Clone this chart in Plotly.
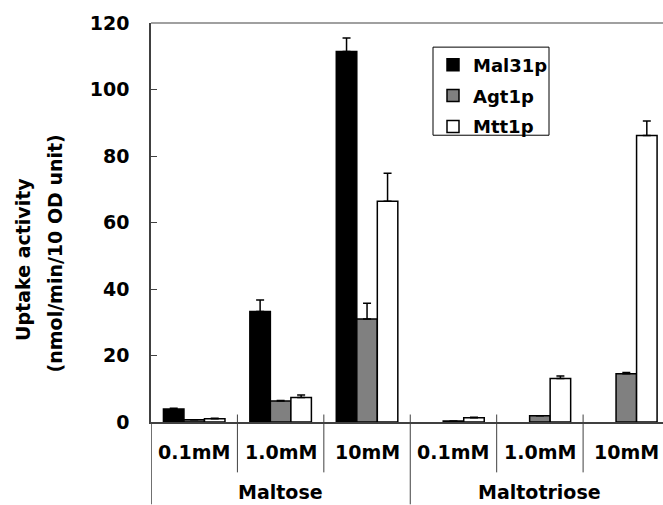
import plotly.graph_objects as go

sugars = ["Maltose", "Maltotriose"]
concs = ["0.1mM", "1.0mM", "10mM"]

series_names = ["Mal31p", "Agt1p", "Mtt1p"]
mal31p = [3.9, 33.2, 111.4, None, None, None]
mal31p_err = [0.2, 3.5, 4.1, None, None, None]
agt1p = [0.7, 6.3, 31.0, 0.3, 1.9, 14.5]
agt1p_err = [0.0, 0.2, 4.7, 0.0, 0.0, 0.4]
mtt1p = [1.0, 7.4, 66.4, 1.3, 13.1, 86.2]
mtt1p_err = [0.1, 0.7, 8.4, 0.1, 0.7, 4.3]

y_ticks = [0, 20, 40, 60, 80, 100, 120]

# layout constants
W, H = 663, 505
L, T = 151, 22.5
PW, PH = 512, 400
cat_px = 86.42

cat_labels = [c for s in sugars for c in concs]
xpos = list(range(len(cat_labels)))
n = len(cat_labels)
xmax = -0.5 + PW / cat_px

FONT = dict(family="DejaVu Sans", size=19, color="black", weight="bold")
AX = "#404040"

fills = ["#000000", "#808080", "#ffffff"]
vals = [mal31p, agt1p, mtt1p]
errs = [mal31p_err, agt1p_err, mtt1p_err]

fig = go.Figure()
for name, v, e, c in zip(series_names, vals, errs, fills):
    fig.add_trace(go.Bar(
        x=xpos, y=v, name=name, legendgroup=name,
        marker=dict(color=c, line=dict(color="black", width=1.5)),
        error_y=dict(type="data", array=e, arrayminus=[0 if q is not None else None for q in e],
                     symmetric=False, color="black", thickness=1.5, width=4),
    ))

def py(p):
    return (T + PH - p) / PH

def px(p):
    return (p - L) / PW

annotations = []
for i, lab in enumerate(cat_labels):
    annotations.append(dict(x=xpos[i], xref="x", y=py(453), yref="paper", text=lab,
                            showarrow=False, font=FONT, xanchor="center", yanchor="middle"))
for g, s in enumerate(sugars):
    center = (g * len(concs) + (g + 1) * len(concs) - 1) / 2
    annotations.append(dict(x=center, xref="x", y=py(493), yref="paper", text=s,
                            showarrow=False, font=FONT, xanchor="center", yanchor="middle"))
annotations.append(dict(x=px(23), xref="paper", y=py(260), yref="paper", text="Uptake activity",
                        textangle=-90, showarrow=False, font=FONT, xanchor="center", yanchor="middle"))
annotations.append(dict(x=px(55), xref="paper", y=py(253.5), yref="paper", text="(nmol/min/10 OD unit)",
                        textangle=-90, showarrow=False, font=FONT, xanchor="center", yanchor="middle"))

shapes = []
# top border
shapes.append(dict(type="line", xref="paper", yref="paper", x0=0, x1=1, y0=1, y1=1,
                   line=dict(color="#a0a0a0", width=2)))
# legend frame
shapes.append(dict(type="rect", xref="paper", yref="paper", x0=px(433), x1=px(549),
                   y0=py(135), y1=py(46.7), fillcolor="white", line=dict(color="black", width=1)))
# left axis extension
shapes.append(dict(type="line", xref="x", yref="paper", x0=-0.5, x1=-0.5, y0=0, y1=py(505),
                   line=dict(color=AX, width=1.5)))
for b in range(1, n):
    xb = b - 0.5
    if b % len(concs) == 0:
        y1 = py(505)
    else:
        y1 = py(473)
    shapes.append(dict(type="line", xref="x", yref="paper", x0=xb, x1=xb, y0=py(415), y1=y1,
                       line=dict(color=AX, width=1)))

fig.update_layout(
    width=W, height=H,
    margin=dict(l=L, r=W - L - PW, t=T, b=H - T - PH, pad=0),
    paper_bgcolor="white", plot_bgcolor="white",
    barmode="group", bargap=0.288, bargroupgap=0,
    showlegend=True,
    legend=dict(x=px(433), y=py(46), xanchor="left", yanchor="top",
                borderwidth=0, bgcolor="rgba(0,0,0,0)",
                font=dict(family="DejaVu Sans", size=18, color="black", weight="bold"),
                tracegroupgap=4.5, traceorder="grouped", itemwidth=30),
    xaxis=dict(range=[-0.5, xmax], showticklabels=False, ticks="", showgrid=False,
               zeroline=False, showline=True, linecolor=AX, linewidth=1.5),
    yaxis=dict(range=[0, 120], tickvals=y_ticks, ticks="inside", ticklen=6, tickcolor=AX,
               tickwidth=1, showgrid=False, zeroline=False, showline=True, linecolor=AX,
               linewidth=1.5, tickfont=FONT, ticklabelstandoff=16),
    annotations=annotations,
    shapes=shapes,
)

fig.write_html("out.html")
